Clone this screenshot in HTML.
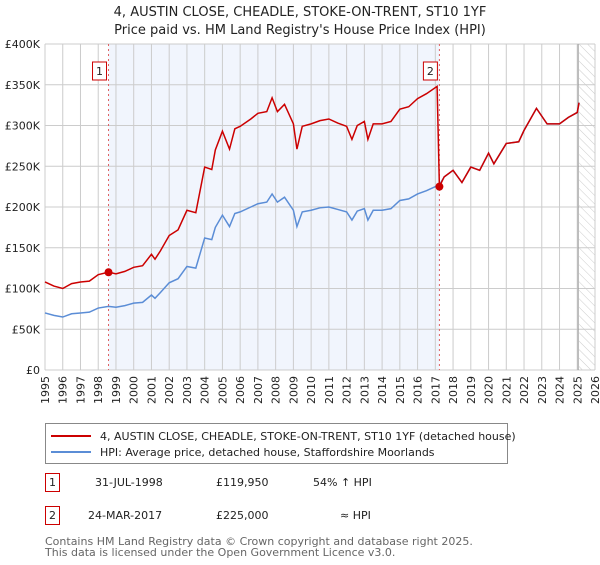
<!DOCTYPE html>
<html><head><meta charset="utf-8"><style>
body{margin:0;background:#fff;font-family:"Liberation Sans","DejaVu Sans",sans-serif;}
</style></head><body>
<svg width="600" height="560" xmlns="http://www.w3.org/2000/svg" style="font-family:'DejaVu Sans','Liberation Sans',sans-serif">
<defs><pattern id="hatch" width="6" height="6" patternUnits="userSpaceOnUse" patternTransform="rotate(-45)"><line x1="0" y1="0" x2="0" y2="6" stroke="#ccc" stroke-width="1"/></pattern></defs>
<text x="300" y="16" text-anchor="middle" font-size="13" fill="#222">4, AUSTIN CLOSE, CHEADLE, STOKE-ON-TRENT, ST10 1YF</text>
<text x="300" y="34" text-anchor="middle" font-size="13" fill="#222">Price paid vs. HM Land Registry's House Price Index (HPI)</text>
<g id="plot"></g>
<g id="legend">
<rect x="45.5" y="423.5" width="462" height="40" fill="#fff" stroke="#888"/>
<line x1="51" y1="436" x2="91" y2="436" stroke="#cc0000" stroke-width="2"/>
<text x="100" y="440" font-size="11" fill="#222">4, AUSTIN CLOSE, CHEADLE, STOKE-ON-TRENT, ST10 1YF (detached house)</text>
<line x1="51" y1="452" x2="91" y2="452" stroke="#5b8dd6" stroke-width="2"/>
<text x="100" y="456" font-size="11" fill="#222">HPI: Average price, detached house, Staffordshire Moorlands</text>
</g>
<g font-size="11" fill="#222">
<rect x="45.5" y="473.5" width="14" height="18" fill="#fff" stroke="#cc0000"/>
<text x="52.5" y="486" text-anchor="middle">1</text>
<text x="95" y="486">31-JUL-1998</text>
<text x="216" y="486">£119,950</text>
<text x="313" y="486">54% ↑ HPI</text>
<rect x="45.5" y="506.5" width="14" height="18" fill="#fff" stroke="#cc0000"/>
<text x="52.5" y="519" text-anchor="middle">2</text>
<text x="88" y="519">24-MAR-2017</text>
<text x="216" y="519">£225,000</text>
<text x="340" y="519">≈ HPI</text>
</g>
<text x="45" y="545" font-size="11" fill="#666">Contains HM Land Registry data © Crown copyright and database right 2025.</text>
<text x="45" y="556" font-size="11" fill="#666">This data is licensed under the Open Government Licence v3.0.</text>
</svg>
<script>
const hpiYears=[1995,1995.5,1996,1996.5,1997,1997.5,1998,1998.58,1999,1999.5,2000,2000.5,2001,2001.2,2001.5,2002,2002.5,2003,2003.5,2004,2004.4,2004.6,2005,2005.4,2005.7,2006,2006.6,2007,2007.5,2007.8,2008.1,2008.5,2009,2009.2,2009.5,2010,2010.5,2011,2011.5,2012,2012.3,2012.6,2013,2013.2,2013.5,2014,2014.5,2015,2015.5,2016,2016.5,2017.1,2017.23,2017.5,2018,2018.5,2019,2019.5,2020,2020.3,2021,2021.7,2022,2022.7,2023.3,2024,2024.5,2025,2025.1];
const hpiValues=[70,67,65,69,70,71,76,78,77,79,82,83,92,88,95,107,112,127,125,162,160,175,190,176,192,194,200,204,206,216,206,212,196,176,194,196,199,200,197,194,184,195,198,184,196,196,198,208,210,216,220,226,227,237,245,230,249,245,266,253,278,280,294,321,302,302,310,316,328];
const priceValues=[108,103,100,106,108,109,117,120,118,121,126,128,142,136,146,165,172,196,193,249,246,270,293,271,296,299,308,315,317,334,317,326,302,271,299,302,306,308,303,299,283,300,305,283,302,302,305,320,323,333,339,348,225,237,245,230,249,245,266,253,278,280,294,321,302,302,310,316,328];
const saleYears=[1998.58,2017.23];
const saleValues=[119.95,225];
const saleLabels=["1","2"];
const yTicks=[0,50,100,150,200,250,300,350,400];
const yTickLabels=["£0","£50K","£100K","£150K","£200K","£250K","£300K","£350K","£400K"];
const xTicks=[1995,1996,1997,1998,1999,2000,2001,2002,2003,2004,2005,2006,2007,2008,2009,2010,2011,2012,2013,2014,2015,2016,2017,2018,2019,2020,2021,2022,2023,2024,2025,2026];

const L=45,R=595,T=44,B=370;
const xs=t=>L+(t-1995)/(2026-1995)*(R-L);
const ys=v=>B-v/400*(B-T);
const NS="http://www.w3.org/2000/svg";
const g=document.getElementById('plot');
function mk(tag,attrs,parent){const e=document.createElementNS(NS,tag);for(const k in attrs)e.setAttribute(k,attrs[k]);(parent||g).appendChild(e);return e;}
let e;
e=mk('rect',{x:L,y:T,width:R-L,height:B-T,fill:'#fff'});


e=mk('rect',{x:xs(saleYears[0]),y:T,width:xs(saleYears[1])-xs(saleYears[0]),height:B-T,fill:'#eef3fd',opacity:0.8});


e=mk('rect',{x:xs(2025.1),y:T,width:R-xs(2025.1),height:B-T,fill:'url(#hatch)'});


xTicks.forEach(t=>{
  e=mk('line',{x1:xs(t),x2:xs(t),y1:T,y2:B,stroke:'#ccc','stroke-width':1});
  
  
  e=mk('text',{x:0,y:0,transform:`translate(${xs(t)+4},${B+34}) rotate(-90)`,'font-size':11,fill:'#222'});
  e.textContent=t;
  
  
});
yTicks.forEach((v,i)=>{
  e=mk('line',{x1:L,x2:R,y1:ys(v),y2:ys(v),stroke:'#ccc','stroke-width':1});
  
  
  e=mk('text',{x:L-5,y:ys(v)+4,'text-anchor':'end','font-size':11,fill:'#222'});
  e.textContent=yTickLabels[i];
  
  
});
e=mk('line',{x1:xs(2025.05),x2:xs(2025.05),y1:T,y2:B,stroke:'#999','stroke-width':1});


saleYears.forEach((t,i)=>{
  e=mk('line',{x1:xs(t),x2:xs(t),y1:T,y2:B,stroke:'#e06060','stroke-width':1,'stroke-dasharray':'2,3'});
  
  
  e=mk('rect',{x:xs(t)-16,y:T+18,width:14,height:18,fill:'#fff',stroke:'#cc0000'});
  
  
  e=mk('text',{x:xs(t)-9,y:T+31,'text-anchor':'middle','font-size':11,fill:'#222'});
  e.textContent=saleLabels[i];
  
  
});
e=mk('polyline',{points:hpiYears.map((t,i)=>xs(t)+','+ys(hpiValues[i])).join(' '),fill:'none',stroke:'#5b8dd6','stroke-width':1.5});


e=mk('polyline',{points:hpiYears.map((t,i)=>xs(t)+','+ys(priceValues[i])).join(' '),fill:'none',stroke:'#cc0000','stroke-width':1.5});


saleYears.forEach((t,i)=>{
  e=mk('circle',{cx:xs(t),cy:ys(saleValues[i]),r:4,fill:'#cc0000'});
  
  
});
</script>
</body></html>
